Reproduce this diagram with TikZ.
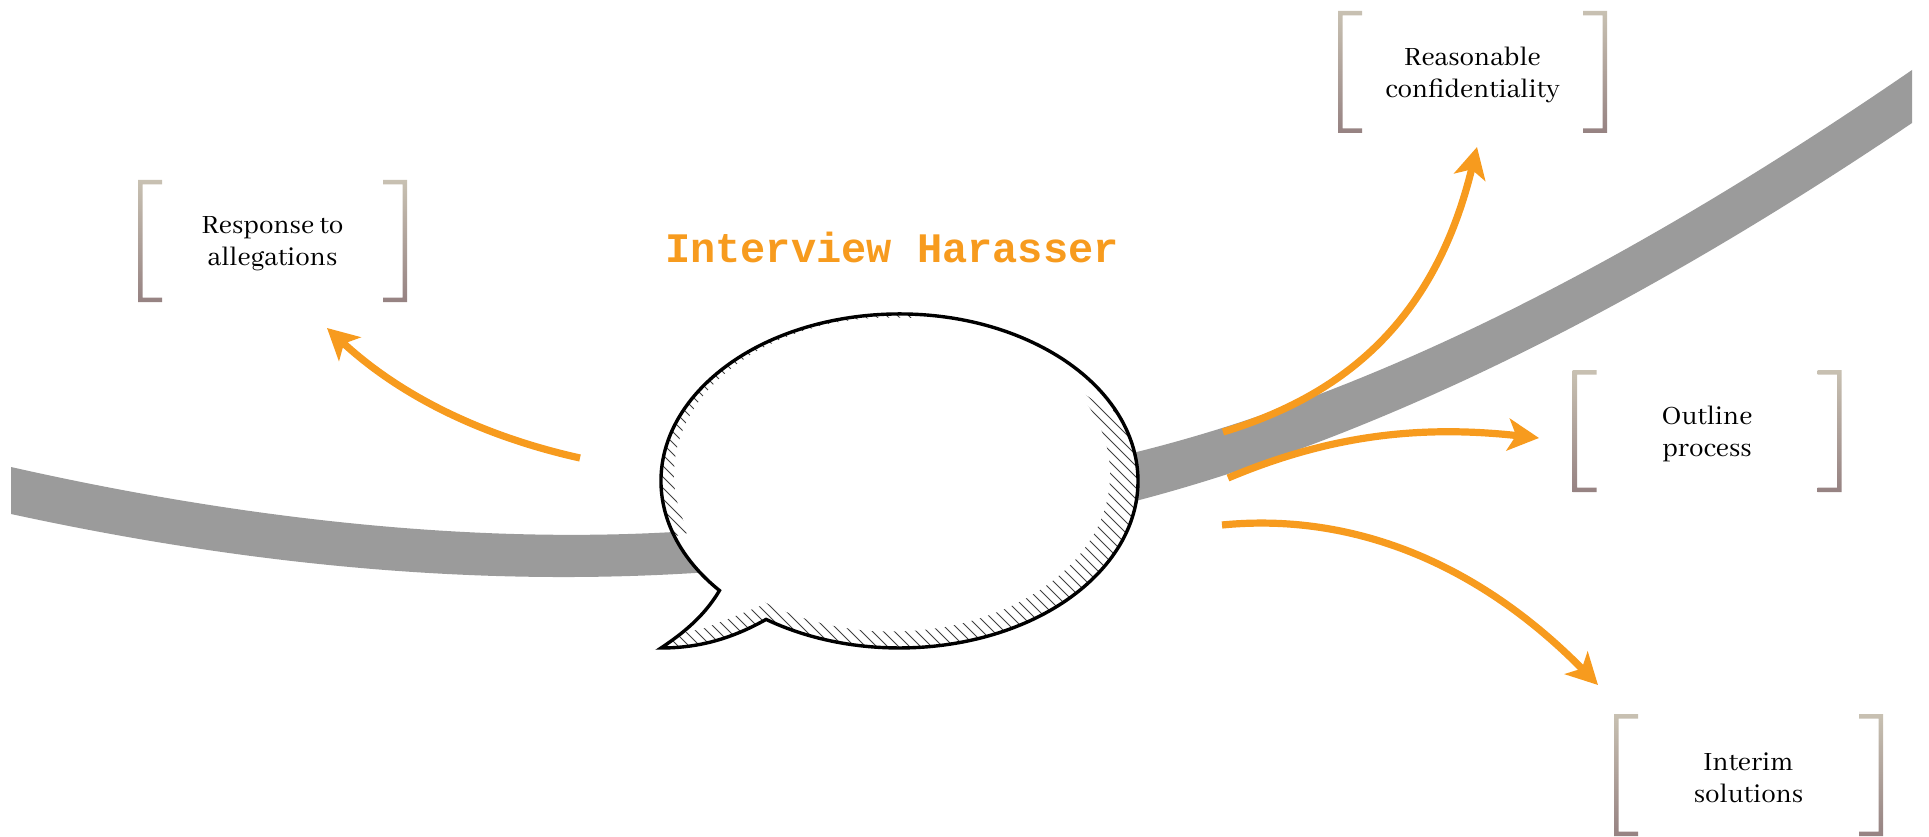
\documentclass[tikz,border=0pt]{standalone}
\usepackage{fontspec}
\setmainfont{Abhaya Libre}
\newfontfamily\titlefont{Liberation Mono}
\usetikzlibrary{arrows.meta}
\definecolor{ribbon}{RGB}{155,155,155}
\definecolor{arrowor}{RGB}{247,155,30}
\definecolor{brtop}{RGB}{200,193,178}
\definecolor{brbot}{RGB}{150,130,130}
\tikzset{
  ribbonfill/.style={fill=ribbon,draw=none},
  flow/.style={draw=arrowor,line width=7.2pt,-{Stealth[length=31pt,width=32pt,inset=8pt]}},
  label/.style={align=center,font=\fontsize{29}{32}\selectfont,text=black},
  brk/.style={top color=brtop,bottom color=brbot,draw=none},
  hatchline/.style={draw=black!75,line width=0.9pt},
  titletext/.style={text=arrowor,font=\titlefont\bfseries\fontsize{42}{42}\selectfont}
}
\newcommand{\bracketbox}[4]{%
  \node[label] (#1) at (#2,#3+3) {#4};
  \path[brk] (#2-134.5,#3-61) -- ++(24,0) -- ++(0,4.5) -- ++(-19.5,0) -- (#2-130,#3+56.5) -- ++(19.5,0) -- ++(0,4.5) -- ++(-24,0) -- cycle;
  \path[brk] (#2+134.5,#3-61) -- ++(-24,0) -- ++(0,4.5) -- ++(19.5,0) -- (#2+130,#3+56.5) -- ++(-19.5,0) -- ++(0,4.5) -- ++(24,0) -- cycle;
}
\newcommand{\bubblepath}{(766.1,619.4) arc[start angle=124,end angle=-221,x radius=238.5,y radius=167]
  .. controls (705,615) and (685,632) .. (661,648)
  .. controls (700,648) and (733,638) .. (766.1,619.4) -- cycle}
\begin{document}
\begin{tikzpicture}[x=1pt,y=-1pt]
\useasboundingbox (0,0) rectangle (1929,837);
% ribbons
\path[ribbonfill] (11,467) .. controls (246,520) and (480,545) .. (690,531) -- (710,572)
  .. controls (480,588) and (246,565) .. (11,514) -- cycle;
\path[ribbonfill] (1120,456) .. controls (1380,395) and (1650,250) .. (1912,70) -- (1912,123)
  .. controls (1650,300) and (1380,440) .. (1120,505) -- cycle;
% boxes
\bracketbox{resp}{272.5}{241}{Response to\\allegations}
\bracketbox{conf}{1472.5}{72}{Reasonable\\confidentiality}
\bracketbox{outl}{1707}{431}{Outline\\process}
\bracketbox{inter}{1748.5}{775}{Interim\\solutions}
% arrow end points
\coordinate (a1s) at (580,458);
\coordinate (a1e) at (327,328);
\coordinate (a2s) at (1223,432);
\coordinate (a2e) at (1477,147);
\coordinate (a3s) at (1228,478);
\coordinate (a3e) at (1539,438);
\coordinate (a4s) at (1222,525);
\coordinate (a4e) at (1598,685);
\draw[flow] (a1s) .. controls (490,438) and (405,400) .. (a1e);
\draw[flow] (a2s) .. controls (1345,395) and (1435,320) .. (a2e);
\draw[flow] (a3s) .. controls (1330,435) and (1420,425) .. (a3e);
\draw[flow] (a4s) .. controls (1355,512) and (1480,565) .. (a4e);
% title
\node[titletext] (title) at (892,247) {Interview Harasser};
% bubble
\fill[white] \bubblepath;
\begin{scope}
  \clip \bubblepath;
  \foreach \k in {150,161,...,1150} {\draw[hatchline] (\k,250) -- (\k+450,700);}
  \fill[white] (892,474.5) ellipse[x radius=218,y radius=157];
  \fill[white] (720,584) -- (668,636) -- (705,628) -- (765,604) -- cycle;
  \fill[white] (880,300) -- (1160,300) -- (1112,412) -- (1086,395) -- cycle;
  \fill[white] (640,545) -- (700,530) -- (760,600) -- (722,600) -- cycle;
\end{scope}
\draw[black,line width=3.4pt,line join=miter] \bubblepath;
\end{tikzpicture}
\end{document}
